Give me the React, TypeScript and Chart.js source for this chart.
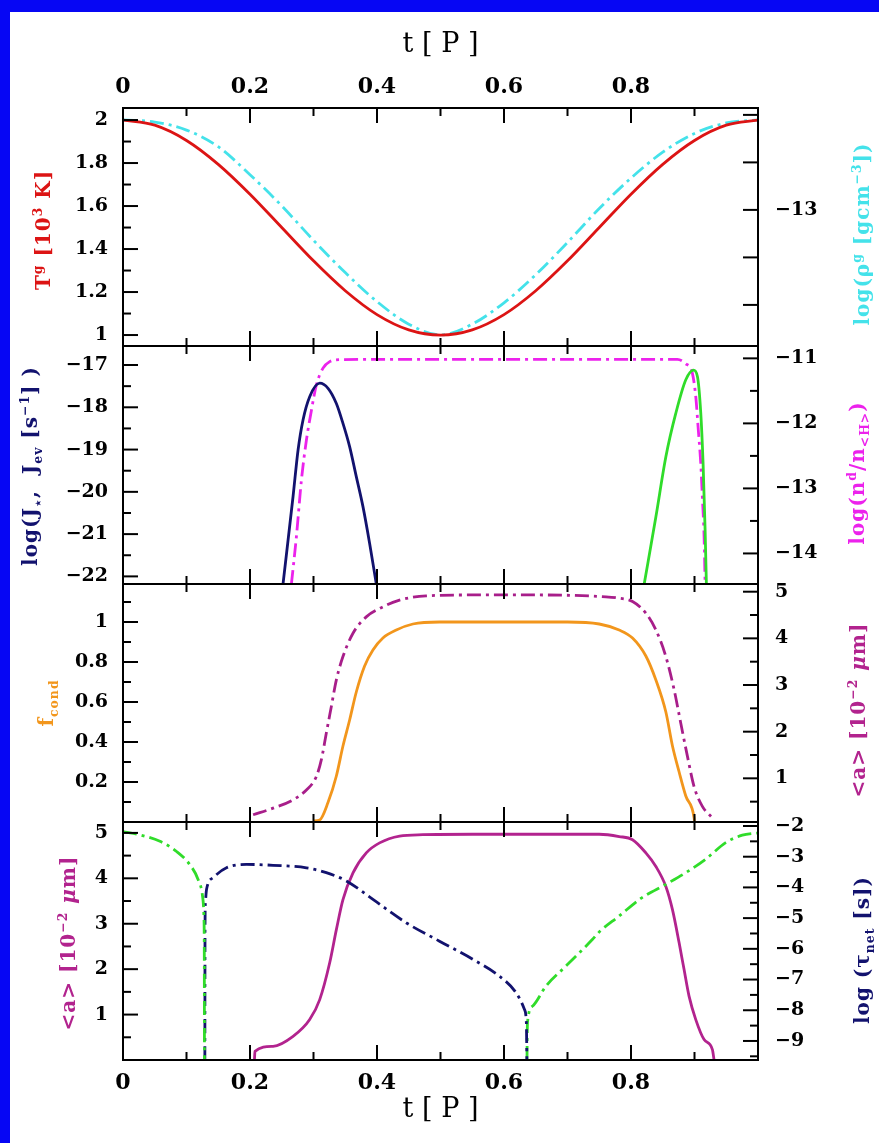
import React, { useEffect, useRef } from 'react';
import { Chart, registerables } from 'chart.js';

Chart.register(...registerables);

// ---------- Panel 1: gas temperature and gas density ----------
const tgPhase = [0, 0.05, 0.1, 0.15, 0.2, 0.25, 0.3, 0.35, 0.4, 0.45, 0.5, 0.55, 0.6, 0.65, 0.7, 0.75, 0.8, 0.85, 0.9, 0.95, 1];
const tgValue = [2.0, 1.976, 1.905, 1.794, 1.655, 1.5, 1.345, 1.206, 1.095, 1.024, 1.0, 1.024, 1.095, 1.206, 1.345, 1.5, 1.655, 1.794, 1.905, 1.976, 2.0];
const rhoPhase = [0, 0.05, 0.1, 0.15, 0.2, 0.25, 0.3, 0.35, 0.4, 0.45, 0.5, 0.55, 0.6, 0.65, 0.7, 0.75, 0.8, 0.85, 0.9, 0.95, 1];
const rhoValue = [-12.621, -12.63, -12.664, -12.734, -12.852, -12.983, -13.128, -13.264, -13.386, -13.481, -13.526, -13.481, -13.391, -13.273, -13.137, -12.994, -12.866, -12.757, -12.678, -12.634, -12.621];

// ---------- Panel 2: nucleation / evaporation rates and grain abundance ----------
const jStarPhase = [0.252, 0.2678, 0.2757, 0.2835, 0.294, 0.3098, 0.3229, 0.336, 0.3464, 0.3569, 0.3674, 0.3779, 0.3884, 0.3989];
const jStarValue = [-22.18, -20.11, -19.01, -18.3, -17.75, -17.43, -17.55, -17.91, -18.38, -18.93, -19.64, -20.35, -21.22, -22.18];
const jEvPhase = [0.8208, 0.8392, 0.8549, 0.8706, 0.8863, 0.8983, 0.9046, 0.9099, 0.9135, 0.9167, 0.9187];
const jEvValue = [-22.18, -20.59, -19.17, -18.14, -17.35, -17.12, -17.27, -18.14, -19.32, -20.9, -22.18];
const ndPhase = [0.2652, 0.2731, 0.281, 0.2888, 0.2967, 0.3045, 0.315, 0.3255, 0.3412, 0.4, 0.5, 0.6, 0.7, 0.8, 0.873, 0.8859, 0.8967, 0.902, 0.906, 0.9099, 0.9124, 0.9151, 0.9167];
const ndValue = [-14.47, -13.74, -12.87, -12.26, -11.8, -11.41, -11.15, -11.05, -11.02, -11.015, -11.015, -11.015, -11.015, -11.015, -11.015, -11.08, -11.23, -11.59, -12.1, -12.62, -13.13, -13.74, -14.46];

// ---------- Panel 3: degree of condensation and mean grain radius ----------
const fcPhase = [0.2992, 0.3097, 0.3228, 0.336, 0.3464, 0.3569, 0.3674, 0.3805, 0.3936, 0.4093, 0.4304, 0.4565, 0.4984, 0.6, 0.7, 0.75, 0.7814, 0.8024, 0.8234, 0.8392, 0.8549, 0.8653, 0.8758, 0.8863, 0.8994, 0.9];
const fcValue = [0.005, 0.01, 0.097, 0.23, 0.38, 0.51, 0.65, 0.78, 0.86, 0.92, 0.96, 0.99, 1.0, 1.0, 1.0, 0.99, 0.96, 0.92, 0.83, 0.71, 0.55, 0.38, 0.25, 0.13, 0.02, 0.0];
const a3Phase = [0.2049, 0.2363, 0.2678, 0.2888, 0.3045, 0.3124, 0.3202, 0.3281, 0.336, 0.3464, 0.3622, 0.3831, 0.4041, 0.4355, 0.4774, 0.5508, 0.65, 0.7606, 0.7814, 0.8024, 0.8234, 0.8392, 0.8549, 0.8679, 0.8784, 0.8889, 0.8994, 0.9124, 0.9282];
const a3Value = [0.22, 0.36, 0.54, 0.75, 1.04, 1.4, 1.97, 2.54, 3.11, 3.61, 4.11, 4.46, 4.64, 4.82, 4.91, 4.93, 4.93, 4.89, 4.86, 4.79, 4.54, 4.18, 3.61, 2.9, 2.18, 1.47, 0.82, 0.4, 0.15];

// ---------- Panel 4: mean grain radius and net growth timescale ----------
const a4Phase = [0.207, 0.2078, 0.2363, 0.2678, 0.294, 0.3098, 0.3255, 0.336, 0.3464, 0.3622, 0.3831, 0.4041, 0.4355, 0.4721, 0.55, 0.65, 0.75, 0.7814, 0.8024, 0.8234, 0.8392, 0.8549, 0.8653, 0.8758, 0.8836, 0.8915, 0.902, 0.9151, 0.9282, 0.9308];
const a4Value = [0.0, 0.19, 0.3, 0.52, 0.89, 1.33, 2.14, 2.87, 3.53, 4.12, 4.56, 4.78, 4.93, 4.96, 4.97, 4.97, 4.97, 4.92, 4.85, 4.56, 4.26, 3.82, 3.31, 2.58, 1.99, 1.4, 0.89, 0.45, 0.23, 0.0];
const tauGrowPhase = [0, 0.0267, 0.0582, 0.0844, 0.1053, 0.1184, 0.1253, 0.1274, 0.128, 0.1283];
const tauGrowValue = [-2.18, -2.29, -2.5, -2.83, -3.26, -3.75, -4.29, -4.94, -6.0, -9.62];
const tauEvapPhase = [0.1289, 0.1292, 0.1298, 0.1316, 0.142, 0.163, 0.1945, 0.2363, 0.2888, 0.3202, 0.3517, 0.3936, 0.4459, 0.4984, 0.5508, 0.5928, 0.619, 0.6321, 0.6352, 0.6357, 0.636];
const tauEvapValue = [-9.62, -5.2, -4.5, -4.06, -3.68, -3.36, -3.25, -3.28, -3.36, -3.52, -3.79, -4.39, -5.15, -5.75, -6.34, -6.89, -7.43, -7.97, -8.4, -9.0, -9.62];
const tauRegrowPhase = [0.6362, 0.6365, 0.637, 0.6452, 0.6662, 0.6976, 0.7395, 0.75, 0.7814, 0.8155, 0.8549, 0.8863, 0.9177, 0.9491, 0.9753, 0.9937, 1.0];
const tauRegrowValue = [-9.62, -8.9, -8.4, -7.86, -7.21, -6.56, -5.69, -5.45, -4.93, -4.36, -3.9, -3.52, -3.08, -2.54, -2.3, -2.24, -2.23];

// ---------- Tick labels ----------
const X_TICKS = [0, 0.2, 0.4, 0.6, 0.8];
const TG_TICKS = [1, 1.2, 1.4, 1.6, 1.8, 2];
const RHO_TICKS = [-13];
const J_TICKS = [-22, -21, -20, -19, -18, -17];
const ND_TICKS = [-14, -13, -12, -11];
const FC_TICKS = [0.2, 0.4, 0.6, 0.8, 1];
const A3_TICKS = [1, 2, 3, 4, 5];
const A4_TICKS = [1, 2, 3, 4, 5];
const TAU_TICKS = [-9, -8, -7, -6, -5, -4, -3, -2];

// ---------- Layout and style ----------
const W = 879;
const H = 1143;
const LEFT_W = 123;
const RIGHT_W = 121;
const TOP_H = 108;
const BOTTOM_H = 83;
const MAJOR_LEN = 15;
const MINOR_LEN = 8;
const TICK_FONT = "'DejaVu Serif', serif";
const TITLE_FONT = "'DejaVu Serif', serif";
const BORDER_BLUE = '#0606f4';

const RED = '#dc1414';
const CYAN = '#44e2ea';
const NAVY = '#12126e';
const GREEN = '#30dc2a';
const MAGENTA = '#ec22ec';
const ORANGE = '#f2961c';
const PURPLE_DASH = '#a81e8a';
const PURPLE = '#b2238e';
const DASH_DOT = [14, 5, 3, 5];

type Side = 'left' | 'right';
interface AxisSpec { id: string; side: Side; weight: number; min: number; max: number; majors: number[]; minor: number; longMinor?: boolean; }

const Y_AXES: AxisSpec[] = [
  { id: 'yTg', side: 'left', weight: 4, min: 0.949, max: 2.056, majors: TG_TICKS, minor: 0.1 },
  { id: 'yJ', side: 'left', weight: 3, min: -22.18, max: -16.55, majors: J_TICKS, minor: 0.5 },
  { id: 'yF', side: 'left', weight: 2, min: 0, max: 1.19, majors: FC_TICKS, minor: 0.1 },
  { id: 'yA4', side: 'left', weight: 1, min: 0, max: 5.24, majors: A4_TICKS, minor: 0.5 },
  { id: 'yRho', side: 'right', weight: 1, min: -13.573, max: -12.571, majors: RHO_TICKS, minor: 0.2, longMinor: true },
  { id: 'yNd', side: 'right', weight: 2, min: -14.47, max: -10.81, majors: ND_TICKS, minor: 0.5 },
  { id: 'yA3', side: 'right', weight: 3, min: 0.064, max: 5.165, majors: A3_TICKS, minor: 0.5 },
  { id: 'yTau', side: 'right', weight: 4, min: -9.62, max: -1.87, majors: TAU_TICKS, minor: 0.5 },
];
const LEFT_IDS = ['yTg', 'yJ', 'yF', 'yA4'];

type Part = [string, ('sup' | 'sub' | 'ital')?];
const A_UNIT: Part[] = [['<a> [10'], ['\u22122', 'sup'], [' '], ['\u03bc', 'ital'], ['m]']];
const AXIS_TITLES: { axis: string; x: number; dy: number; color: string; parts: Part[] }[] = [
  { axis: 'yTg', x: 43, dy: 3, color: RED, parts: [['T'], ['g', 'sup'], [' [10'], ['3', 'sup'], [' K]']] },
  { axis: 'yRho', x: 862, dy: 7, color: CYAN, parts: [['log(\u03c1'], ['g', 'sup'], [' [gcm'], ['\u22123', 'sup'], ['])']] },
  { axis: 'yJ', x: 30, dy: 1, color: NAVY, parts: [['log(J'], ['\u22c6', 'sub'], [',  J'], ['ev', 'sub'], [' [s'], ['\u22121', 'sup'], ['] )']] },
  { axis: 'yNd', x: 857, dy: 8, color: MAGENTA, parts: [['log(n'], ['d', 'sup'], ['/n'], ['<H>', 'sub'], [')']] },
  { axis: 'yF', x: 46, dy: 0, color: ORANGE, parts: [['f'], ['cond', 'sub']] },
  { axis: 'yA3', x: 858, dy: 7, color: PURPLE, parts: A_UNIT },
  { axis: 'yA4', x: 68, dy: 2, color: PURPLE, parts: A_UNIT },
  { axis: 'yTau', x: 862, dy: 9, color: NAVY, parts: [['log ('], ['\u03c4'], ['net', 'sub'], [' [s])']] },
];

const fmt = (v: number) => String(Math.round(v * 100) / 100).replace('-', '\u2212');
const pts = (xs: number[], ys: number[]) => xs.map((x, i) => ({ x, y: ys[i] }));

function drawRich(ctx: CanvasRenderingContext2D, parts: Part[], cx: number, cy: number, color: string, size: number) {
  const fontOf = (p: Part) => {
    const small = p[1] === 'sup' || p[1] === 'sub';
    const sz = small ? size * 0.62 : size;
    return `${p[1] === 'ital' ? 'italic ' : ''}bold ${sz}px ${TITLE_FONT}`;
  };
  ctx.save();
  ctx.translate(cx, cy);
  ctx.rotate(-Math.PI / 2);
  ctx.fillStyle = color;
  ctx.textAlign = 'left';
  ctx.textBaseline = 'alphabetic';
  (ctx as any).letterSpacing = '1px';
  const widths = parts.map((p) => { ctx.font = fontOf(p); return ctx.measureText(p[0]).width; });
  let x = -widths.reduce((a, b) => a + b, 0) / 2;
  const base = size * 0.35;
  parts.forEach((p, i) => {
    ctx.font = fontOf(p);
    const dy = p[1] === 'sup' ? -size * 0.42 : p[1] === 'sub' ? size * 0.24 : 0;
    ctx.fillText(p[0], x, base + dy);
    x += widths[i];
  });
  ctx.restore();
}

const framePlugin = {
  id: 'panelFrame',
  beforeDraw(chart: any) {
    const ctx: CanvasRenderingContext2D = chart.ctx;
    ctx.save();
    ctx.fillStyle = '#ffffff';
    ctx.fillRect(0, 0, W, H);
    ctx.fillStyle = BORDER_BLUE;
    ctx.fillRect(0, 0, W, 12);
    ctx.fillRect(0, 0, 10, H);
    ctx.restore();
  },
  afterDraw(chart: any) {
    const ctx: CanvasRenderingContext2D = chart.ctx;
    const a = chart.chartArea;
    const xs = chart.scales.x;
    ctx.save();
    ctx.strokeStyle = '#000';
    ctx.lineWidth = 2;
    ctx.lineCap = 'butt';
    const seg = (x1: number, y1: number, x2: number, y2: number) => {
      ctx.beginPath();
      ctx.moveTo(x1, y1);
      ctx.lineTo(x2, y2);
      ctx.stroke();
    };
    // y ticks, pointing into each panel
    Y_AXES.forEach((ax) => {
      const s = chart.scales[ax.id];
      const x0 = ax.side === 'left' ? a.left : a.right;
      const dir = ax.side === 'left' ? 1 : -1;
      const first = Math.ceil(s.min / ax.minor - 1e-6);
      const last = Math.floor(s.max / ax.minor + 1e-6);
      for (let k = first; k <= last; k++) {
        const v = k * ax.minor;
        const major = ax.majors.some((m) => Math.abs(m - v) < 1e-6);
        const len = major || ax.longMinor ? MAJOR_LEN : MINOR_LEN;
        const y = s.getPixelForValue(v);
        seg(x0, y, x0 + dir * len, y);
      }
    });
    // x ticks on the top and bottom edge of every panel
    LEFT_IDS.forEach((id) => {
      const s = chart.scales[id];
      for (let k = 1; k < 10; k++) {
        const x = xs.getPixelForValue(k / 10);
        const len = k % 2 === 0 ? MAJOR_LEN : MINOR_LEN;
        seg(x, s.top, x, s.top + len);
        seg(x, s.bottom, x, s.bottom - len);
      }
    });
    // frame and panel separators
    ctx.strokeRect(a.left, a.top, a.right - a.left, a.bottom - a.top);
    LEFT_IDS.slice(1).forEach((id) => {
      const s = chart.scales[id];
      seg(a.left, s.top, a.right, s.top);
    });
    ctx.restore();
    // rotated axis titles
    AXIS_TITLES.forEach((t) => {
      const s = chart.scales[t.axis];
      drawRich(ctx, t.parts, t.x, (s.top + s.bottom) / 2 + t.dy, t.color, 20);
    });
  },
};

function yAxis(ax: AxisSpec) {
  return {
    type: 'linear',
    position: ax.side,
    stack: ax.side,
    stackWeight: 1,
    weight: ax.weight,
    min: ax.min,
    max: ax.max,
    bounds: 'data',
    grid: { display: false, drawTicks: false },
    border: { display: false },
    ticks: {
      autoSkip: false,
      padding: ax.side === 'left' ? 15 : 17,
      color: '#000',
      font: { family: TICK_FONT, size: 19, weight: 'bold' },
      callback: (v: any) => fmt(Number(v)),
    },
    afterBuildTicks: (s: any) => { s.ticks = ax.majors.map((value) => ({ value })); },
    afterFit: (s: any) => { s.width = ax.side === 'left' ? LEFT_W : RIGHT_W; },
  };
}

function xAxis(position: 'top' | 'bottom') {
  return {
    type: 'linear',
    position,
    min: 0,
    max: 1,
    bounds: 'data',
    grid: { display: false, drawTicks: false },
    border: { display: false },
    ticks: {
      autoSkip: false,
      maxRotation: 0,
      padding: position === 'top' ? 8 : 10,
      color: '#000',
      font: { family: TICK_FONT, size: 22, weight: 'bold' },
      callback: (v: any) => fmt(Number(v)),
    },
    title: {
      display: true,
      text: 't [ P ]',
      color: '#000',
      font: { family: TICK_FONT, size: 27 },
      padding: position === 'top' ? { top: 29, bottom: 0 } : { top: 0, bottom: 17 },
    },
    afterBuildTicks: (s: any) => { s.ticks = X_TICKS.map((value) => ({ value })); },
    afterFit: (s: any) => { s.height = position === 'top' ? TOP_H : BOTTOM_H; },
  };
}

function line(label: string, xs: number[], ys: number[], yAxisID: string, color: string, dashed: boolean, width = 2.8) {
  return {
    label,
    data: pts(xs, ys),
    xAxisID: 'x',
    yAxisID,
    borderColor: color,
    backgroundColor: color,
    borderWidth: width,
    borderDash: dashed ? DASH_DOT : [],
    pointRadius: 0,
    fill: false,
    cubicInterpolationMode: 'monotone',
  };
}

export default function App() {
  const canvasRef = useRef<HTMLCanvasElement | null>(null);

  useEffect(() => {
    if (!canvasRef.current) return;
    const scales: any = { x: xAxis('bottom'), x2: xAxis('top') };
    Y_AXES.forEach((ax) => { scales[ax.id] = yAxis(ax); });

    const chart = new Chart(canvasRef.current, {
      type: 'line',
      data: {
        datasets: [
          line('T gas', tgPhase, tgValue, 'yTg', RED, false),
          line('log rho gas', rhoPhase, rhoValue, 'yRho', CYAN, true),
          line('log J*', jStarPhase, jStarValue, 'yJ', NAVY, false),
          line('log J ev', jEvPhase, jEvValue, 'yJ', GREEN, false),
          line('log nd/nH', ndPhase, ndValue, 'yNd', MAGENTA, true),
          line('f cond', fcPhase, fcValue, 'yF', ORANGE, false),
          line('<a> panel 3', a3Phase, a3Value, 'yA3', PURPLE_DASH, true),
          line('tau net growth', tauGrowPhase, tauGrowValue, 'yTau', GREEN, true),
          line('tau net evaporation', tauEvapPhase, tauEvapValue, 'yTau', NAVY, true),
          line('tau net regrowth', tauRegrowPhase, tauRegrowValue, 'yTau', GREEN, true),
          line('<a> panel 4', a4Phase, a4Value, 'yA4', PURPLE, false),
        ] as any,
      },
      options: {
        responsive: false,
        maintainAspectRatio: false,
        devicePixelRatio: 1,
        animation: false,
        events: [],
        layout: { padding: 0 },
        plugins: { legend: { display: false }, tooltip: { enabled: false }, title: { display: false } },
        scales,
      } as any,
      plugins: [framePlugin],
    });
    return () => chart.destroy();
  }, []);

  return (
    <div style={{ position: 'absolute', left: 0, top: 0, width: W, height: H, background: '#fff' }}>
      <canvas ref={canvasRef} width={W} height={H} style={{ display: 'block', width: W, height: H }} />
    </div>
  );
}
